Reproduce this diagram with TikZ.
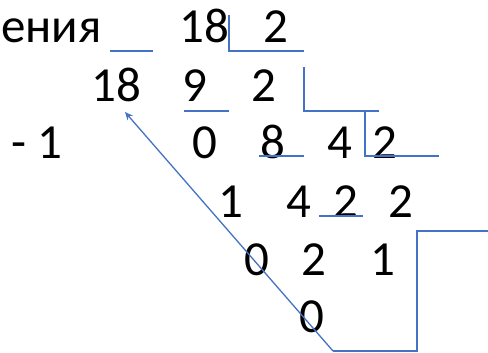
\documentclass[tikz,border=0pt]{standalone}
\usepackage{fontspec}
\setmainfont{Carlito}
\usetikzlibrary{arrows.meta}
\definecolor{lineblue}{HTML}{4472C4}
\begin{document}
\begin{tikzpicture}[x=1pt,y=-1pt,
  num/.style={anchor=base,inner sep=0pt,font=\fontsize{49}{56}\selectfont},
  rule/.style={draw=lineblue,line width=1.3pt}]
\useasboundingbox (0,0) rectangle (488,353);
% row 1
\node[num] (r1a) at (51.5,43) {ения};
\node[num] (r1b) at (204,43) {18};
\node[num] (r1c) at (276,43) {2};
% row 2
\node[num] (r2a) at (116.5,102) {18};
\node[num] (r2b) at (195,102) {9};
\node[num] (r2c) at (264,102) {2};
% row 3
\node[num] (r3a) at (37,158) {- 1};
\node[num] (r3b) at (204.5,158) {0};
\node[num] (r3c) at (272.5,158) {8};
\node[num] (r3d) at (339.5,158) {4};
\node[num] (r3e) at (385,158) {2};
% row 4
\node[num] (r4a) at (231,217) {1};
\node[num] (r4b) at (299,217) {4};
\node[num] (r4c) at (346,217) {2};
\node[num] (r4d) at (401,217) {2};
% row 5
\node[num] (r5a) at (256.5,275) {0};
\node[num] (r5b) at (314,275) {2};
\node[num] (r5c) at (382.5,275) {1};
% row 6
\node[num] (r6a) at (311.5,332) {0};
% line coordinates
\coordinate (u1a) at (110,51); \coordinate (u1b) at (153,51);
\coordinate (c1t) at (229,15); \coordinate (c1c) at (229,51); \coordinate (c1e) at (304,51);
\coordinate (u2a) at (184,111); \coordinate (u2b) at (229,111);
\coordinate (c2t) at (304,67); \coordinate (c2c) at (304,111); \coordinate (c2e) at (379,111);
\coordinate (u3a) at (259,156); \coordinate (u3b) at (304,156);
\coordinate (c3t) at (365,111); \coordinate (c3c) at (365,156); \coordinate (c3e) at (439,156);
\coordinate (u4a) at (319,216); \coordinate (u4b) at (363,216);
\coordinate (b1) at (488,231); \coordinate (b2) at (417,231); \coordinate (b3) at (417,351); \coordinate (b4) at (333,351);
\coordinate (tip) at (125,112);
\draw[rule] (u1a) -- (u1b);
\draw[rule] (c1t) -- (c1c) -- (c1e);
\draw[rule] (u2a) -- (u2b);
\draw[rule] (c2t) -- (c2c) -- (c2e);
\draw[rule] (u3a) -- (u3b);
\draw[rule] (c3t) -- (c3c) -- (c3e);
\draw[rule] (u4a) -- (u4b);
\draw[rule] (b1) -- (b2) -- (b3) -- (b4);
\draw[rule,-{Stealth[length=8pt,width=7pt]}] (b4) -- (tip);
\end{tikzpicture}
\end{document}
